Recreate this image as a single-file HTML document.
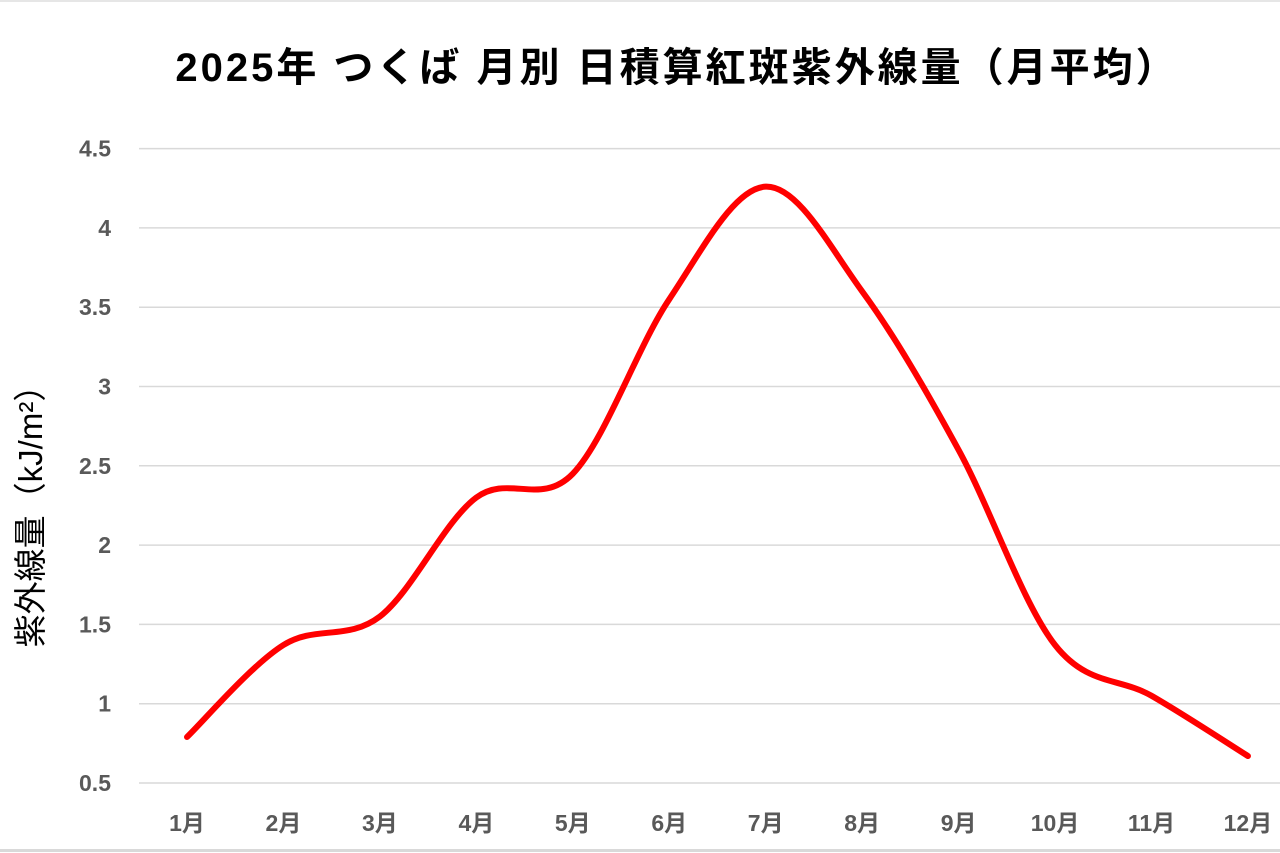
<!DOCTYPE html>
<html><head><meta charset="utf-8"><style>
html,body{margin:0;padding:0;background:#fff;}
body{width:1280px;height:853px;overflow:hidden;position:relative;font-family:"Liberation Sans","Noto Sans CJK JP",sans-serif;}
</style></head><body>
<svg width="1280" height="853" xmlns="http://www.w3.org/2000/svg" style="position:absolute;left:0;top:0">
<rect x="0" y="0" width="1280" height="853" fill="#fff"/>
<line x1="0" y1="850.5" x2="1280" y2="850.5" stroke="#d9d9d9" stroke-width="3"/>
<line x1="0" y1="1" x2="1280" y2="1" stroke="#e6e6e6" stroke-width="2"/>
<text x="677" y="81" text-anchor="middle" font-size="40" font-weight="bold" letter-spacing="3" fill="#000" font-family="Liberation Sans, Noto Sans CJK JP, sans-serif">2025年 つくば 月別 日積算紅斑紫外線量（月平均）</text>
<g id="grid" stroke="#d9d9d9" stroke-width="1.5"></g>
<g id="ylab" font-size="23" font-weight="bold" fill="#595959" text-anchor="end" font-family="Liberation Sans, sans-serif"></g>
<g id="xlab" font-size="23" font-weight="bold" fill="#595959" text-anchor="middle" font-family="Liberation Sans, Noto Sans CJK JP, sans-serif"></g>
<text transform="translate(42,508) rotate(-90)" text-anchor="middle" font-size="33" fill="#000" font-family="Liberation Sans, Noto Sans CJK JP, sans-serif">紫外線量（kJ/m²）</text>
<path id="curve" fill="none" stroke="#ff0000" stroke-width="6" stroke-linecap="round" stroke-linejoin="round"/>
</svg>
<script>
var ns="http://www.w3.org/2000/svg";
function Y(v){return 783-(v-0.5)*158.6;}
var g=document.getElementById('grid'),yl=document.getElementById('ylab'),xl=document.getElementById('xlab');
var labs=["0.5","1","1.5","2","2.5","3","3.5","4","4.5"];
labs.forEach(function(s){var v=parseFloat(s),y=Y(v);
var l=document.createElementNS(ns,'line');l.setAttribute('x1',139);l.setAttribute('x2',1280);l.setAttribute('y1',y);l.setAttribute('y2',y);g.appendChild(l);
var t=document.createElementNS(ns,'text');t.setAttribute('x',111);t.setAttribute('y',y+8);t.textContent=s;yl.appendChild(t);});
var d=[0.79,1.37,1.55,2.3,2.45,3.55,4.26,3.6,2.6,1.37,1.05,0.67];
var P=d.map(function(v,i){return [187+i*96.45,Y(v)];});
for(var i=0;i<12;i++){var t=document.createElementNS(ns,'text');t.setAttribute('x',P[i][0]);t.setAttribute('y',831);t.textContent=(i+1)+"月";xl.appendChild(t);}
var s="M"+P[0][0]+","+P[0][1];
for(var i=0;i<11;i++){var p0=P[i-1]||P[i],p1=P[i],p2=P[i+1],p3=P[i+2]||P[i+1];
var k=6;
s+=" C"+(p1[0]+(p2[0]-p0[0])/k)+","+(p1[1]+(p2[1]-p0[1])/k)+" "+(p2[0]-(p3[0]-p1[0])/k)+","+(p2[1]-(p3[1]-p1[1])/k)+" "+p2[0]+","+p2[1];}
document.getElementById('curve').setAttribute('d',s);
</script>
</body></html>
